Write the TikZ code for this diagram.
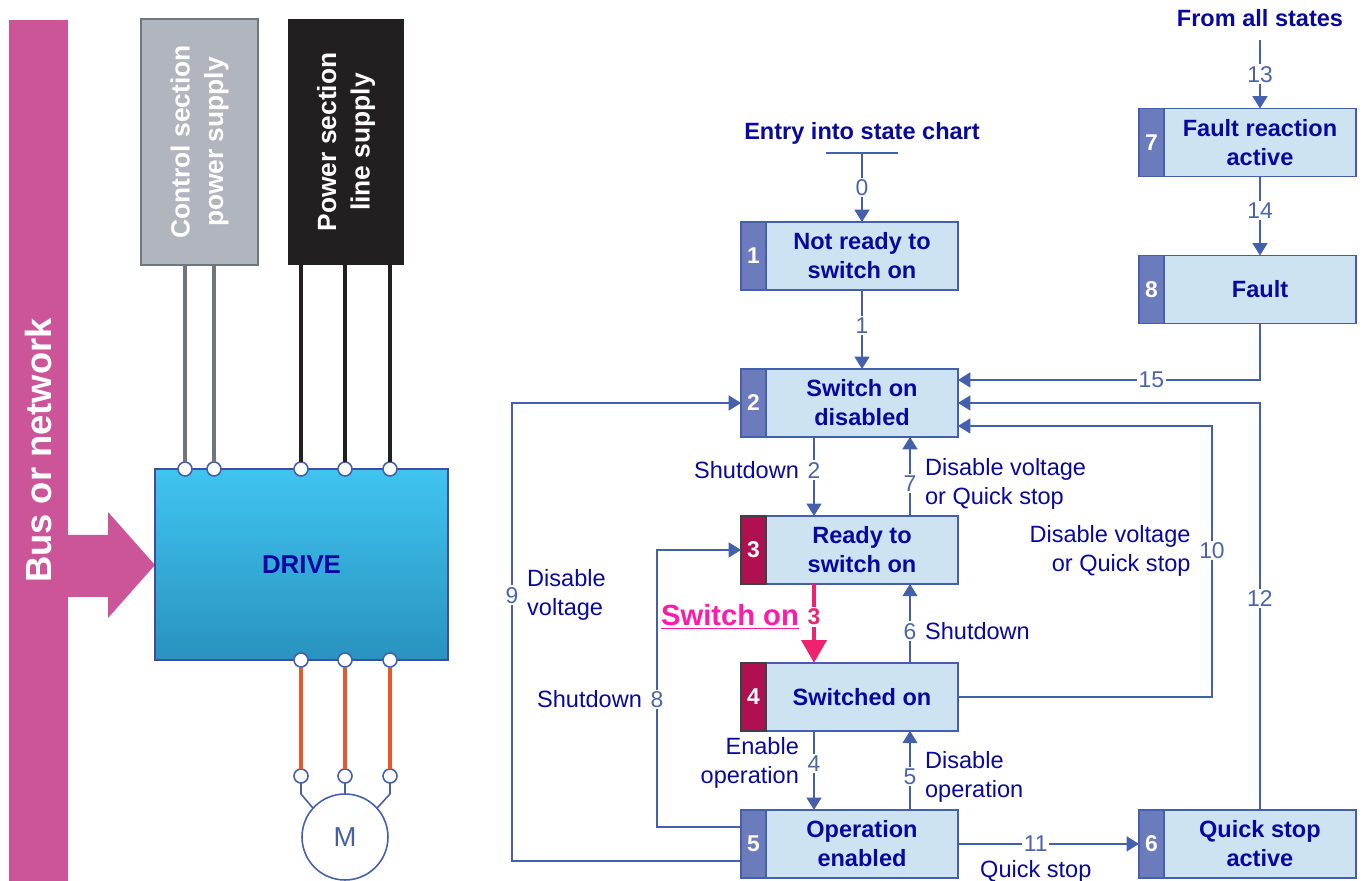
\documentclass[tikz,border=0pt]{standalone}
\usepackage{fontspec}
\setmainfont{Liberation Sans}
\usetikzlibrary{positioning,arrows.meta}

\definecolor{busPink}{RGB}{204,85,153}
\definecolor{ctrlGrey}{RGB}{177,181,189}
\definecolor{ctrlEdge}{RGB}{111,118,125}
\definecolor{lineBlack}{RGB}{35,31,32}
\definecolor{driveTop}{RGB}{64,196,240}
\definecolor{driveBot}{RGB}{40,147,190}
\definecolor{driveEdge}{RGB}{58,79,160}
\definecolor{edgeBlue}{RGB}{68,96,172}
\definecolor{textBlue}{RGB}{8,8,160}
\definecolor{numBlue}{RGB}{74,101,170}
\definecolor{stateFill}{RGB}{205,227,241}
\definecolor{stripBlue}{RGB}{108,123,187}
\definecolor{stripRed}{RGB}{176,16,80}
\definecolor{wireOrange}{RGB}{232,88,46}
\definecolor{switchPink}{RGB}{255,26,170}
\definecolor{arrowPink}{RGB}{238,34,110}

\begin{document}
\begin{tikzpicture}
[x=0.02cm,y=-0.02cm,
 every node/.style={outer sep=0pt},
 supply/.style={rectangle,rotate=90,minimum width=4.92cm,minimum height=2.34cm,inner sep=0pt,align=center,text=white,line width=1pt,font=\fontsize{15}{19}\selectfont\bfseries},
 drive/.style={rectangle,draw=driveEdge,line width=1pt,top color=driveTop,bottom color=driveBot,minimum width=5.86cm,minimum height=3.82cm,text=textBlue,font=\fontsize{14.7}{17}\selectfont\bfseries},
 term/.style={circle,draw=edgeBlue,fill=white,line width=0.9pt,minimum size=0.28cm,inner sep=0pt},
 state/.style={rectangle,draw=edgeBlue,fill=stateFill,line width=0.9pt,minimum width=3.84cm,minimum height=1.36cm,inner sep=0pt,align=center,text=textBlue,font=\fontsize{13.4}{16.5}\selectfont\bfseries},
 num/.style={rectangle,draw=edgeBlue,fill=stripBlue,line width=0.9pt,minimum width=0.5cm,minimum height=1.36cm,inner sep=0pt,text=white,font=\fontsize{13}{15}\selectfont\bfseries},
 numhot/.style={num,fill=stripRed,draw=black!75},
 conn/.style={draw=edgeBlue,line width=0.9pt},
 arr/.style={conn,-{Triangle[length=7pt,width=8.5pt]}},
 lbl/.style={fill=white,inner sep=1pt,text=numBlue,font=\fontsize{13}{15}\selectfont},
 txt/.style={inner sep=1pt,text=textBlue,font=\fontsize{13.4}{16.5}\selectfont},
 every label/.style={label distance=3pt},
 head/.style={text=textBlue,font=\fontsize{13.4}{16.5}\selectfont\bfseries}]
\useasboundingbox (0,0) rectangle (1363,881);
% bus and drive
\node[rectangle,rotate=90,fill=busPink,minimum width=17.22cm,minimum height=1.18cm,text=white,font=\fontsize{20.7}{24}\selectfont\bfseries] (bus) at (38.5,450.5) {Bus or network};
\fill[busPink] (68,535) -- (108,535) -- (108,512) -- (155,565) -- (108,618) -- (108,597) -- (68,597) -- cycle;
\node[supply,fill=ctrlGrey,draw=ctrlEdge] (ctrl) at (199.5,142) {Control section\\power supply};
\node[supply,fill=lineBlack] (pwr) at (346,142) {Power section\\line supply};
\node[drive] (drive) at (301.5,564.5) {DRIVE};
\node[term] (c1) at (185,469) {};
\node[term] (c2) at (214,469) {};
\node[term] (p1) at (301,469) {};
\node[term] (p2) at (345,469) {};
\node[term] (p3) at (390,469) {};
\node[term] (o1) at (301,660) {};
\node[term] (o2) at (345,660) {};
\node[term] (o3) at (390,660) {};
\node[term] (m1) at (301,776) {};
\node[term] (m2) at (345,776) {};
\node[term] (m3) at (390,776) {};
\node[circle,draw=edgeBlue,line width=0.9pt,minimum size=1.72cm,text=edgeBlue,font=\fontsize{15.6}{18}\selectfont] (motor) at (345,837) {M};
\draw[ctrlEdge,line width=2.5pt] (c1) -- (c1 |- ctrl.west);
\draw[ctrlEdge,line width=2.5pt] (c2) -- (c2 |- ctrl.west);
\draw[lineBlack,line width=2.5pt] (p1) -- (p1 |- pwr.west);
\draw[lineBlack,line width=2.5pt] (p2) -- (p2 |- pwr.west);
\draw[lineBlack,line width=2.5pt] (p3) -- (p3 |- pwr.west);
\draw[wireOrange,line width=2.5pt] (o1) -- (m1);
\draw[wireOrange,line width=2.5pt] (o2) -- (m2);
\draw[wireOrange,line width=2.5pt] (o3) -- (m3);
\draw[conn] (m1) -- (m1 |- motor.north) -- (motor.138);
\draw[conn] (m2) -- (motor.north);
\draw[conn] (m3) -- (m3 |- motor.north) -- (motor.42);
% state chart
\node[state] (s1) at (862,256)                    {Not ready to\\switch on};
\node[state] (s2) [on grid,below=2.94cm of s1]    {Switch on\\disabled};
\node[state] (s3) [on grid,below=2.94cm of s2]    {Ready to\\switch on};
\node[state] (s4) [on grid,below=2.94cm of s3]    {Switched on};
\node[state] (s5) [on grid,below=2.94cm of s4]    {Operation\\enabled};
\node[state] (s6) [on grid,right=7.96cm of s5]    {Quick stop\\active};
\node[state] (s7) at (1260,142.5)                 {Fault reaction\\active};
\node[state] (s8) [on grid,below=2.94cm of s7]    {Fault};
\node[num]    (n1) [left=0pt of s1] {1};
\node[num]    (n2) [left=0pt of s2] {2};
\node[numhot] (n3) [left=0pt of s3] {3};
\node[numhot] (n4) [left=0pt of s4] {4};
\node[num]    (n5) [left=0pt of s5] {5};
\node[num]    (n6) [left=0pt of s6] {6};
\node[num]    (n7) [left=0pt of s7] {7};
\node[num]    (n8) [left=0pt of s8] {8};
\node[head] (entry) at (862,133) {Entry into state chart};
\node[head] (fromall) at (1260,18) {From all states};
\coordinate (e0) at (862,153);
\coordinate (e13) at (1260,40);
\draw[conn] ([xshift=-0.72cm]e0) -- ([xshift=0.72cm]e0);
\draw[arr] (e0) -- node[lbl]{0} (s1);
\draw[arr] (s1) -- node[lbl,pos=0.45]{1} (s2);
\draw[arr] ([xshift=-0.96cm]s2.south) -- node[lbl,pos=0.42,label={[txt]left:Shutdown}]{2} ([xshift=-0.96cm]s3.north);
\draw[arr] ([xshift=0.96cm]s3.north) -- node[lbl,pos=0.41,label={[txt,align=left]right:Disable voltage\\or Quick stop}]{7} ([xshift=0.96cm]s2.south);
\draw[arrowPink,line width=2.8pt,-{Triangle[length=13pt,width=14pt]}] ([xshift=-0.96cm]s3.south) -- node[fill=white,inner sep=1pt,pos=0.42,text=arrowPink,font=\fontsize{13}{15}\selectfont\bfseries,label={[inner sep=1pt,text=switchPink,font=\fontsize{16.6}{19}\selectfont\bfseries]left:\underline{Switch on}}]{3} ([xshift=-0.96cm]s4.north);
\draw[arr] ([xshift=0.96cm]s4.north) -- node[lbl,pos=0.4,label={[txt]right:Shutdown}]{6} ([xshift=0.96cm]s3.south);
\draw[arr] ([xshift=-0.96cm]s4.south) -- node[lbl,pos=0.41,label={[txt,align=right]left:Enable\\operation}]{4} ([xshift=-0.96cm]s5.north);
\draw[arr] ([xshift=0.96cm]s5.north) -- node[lbl,pos=0.42,label={[txt,align=left]right:Disable\\operation}]{5} ([xshift=0.96cm]s4.south);
\draw[arr] ([yshift=0.34cm]n5.west) -- ++(-84,0) |- node[lbl,pos=0.23,label={[txt]left:Shutdown}]{8} (n3.west);
\draw[arr] ([yshift=-0.34cm]n5.west) -- ++(-229,0) |- node[lbl,pos=0.29,label={[txt,align=left]right:Disable\\voltage}]{9} (n2.west);
\draw[arr] (s4.east) -- ++(254,0) |- node[lbl,pos=0.27,label={[txt,align=right]left:Disable voltage\\or Quick stop}]{10} ([yshift=-0.46cm]s2.east);
\draw[arr] (s6.north) |- node[lbl,pos=0.26]{12} (s2.east);
\draw[arr] (s8.south) |- node[lbl,pos=0.68]{15} ([yshift=0.46cm]s2.east);
\draw[arr] (s5.east) -- node[lbl,pos=0.43,label={[txt]below:Quick stop}]{11} (n6.west);
\draw[arr] (e13) -- node[lbl]{13} (s7);
\draw[arr] (s7) -- node[lbl,pos=0.43]{14} (s8);
\end{tikzpicture}
\end{document}
